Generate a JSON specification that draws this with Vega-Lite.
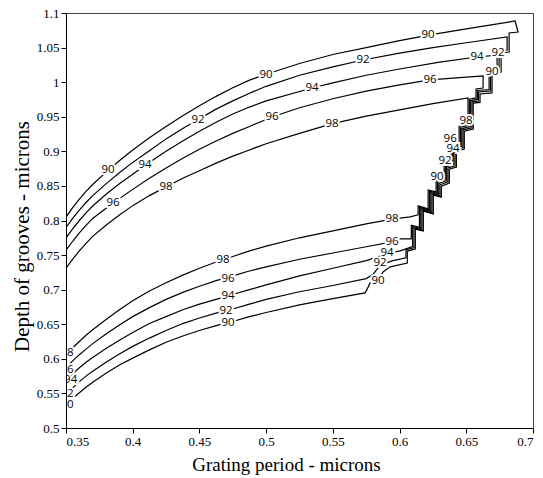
{
"$schema": "https://vega.github.io/schema/vega-lite/v6.json",
"autosize": {"type": "none"},
"padding": {"left": 66, "top": 13, "right": 10, "bottom": 50},
"width": 467,
"height": 415,
"background": "white",
"config": {"view": {"stroke": "#444", "strokeWidth": 1}},
"datasets": {
"lines": [
{"c":90,"i":1,"x":0.35,"y":0.805},{"c":90,"i":2,"x":0.355,"y":0.8185},{"c":90,"i":3,"x":0.36,"y":0.831},{"c":90,"i":4,"x":0.365,"y":0.842},{"c":90,"i":5,"x":0.37,"y":0.852},{"c":90,"i":6,"x":0.38,"y":0.870},{"c":90,"i":7,"x":0.39,"y":0.8865},{"c":90,"i":8,"x":0.40,"y":0.902},{"c":90,"i":9,"x":0.4125,"y":0.9195},{"c":90,"i":10,"x":0.425,"y":0.936},{"c":90,"i":11,"x":0.4375,"y":0.9515},{"c":90,"i":12,"x":0.45,"y":0.966},{"c":90,"i":13,"x":0.4625,"y":0.9795},{"c":90,"i":14,"x":0.475,"y":0.992},{"c":90,"i":15,"x":0.4875,"y":1.003},{"c":90,"i":16,"x":0.50,"y":1.0115},{"c":90,"i":17,"x":0.525,"y":1.027},{"c":90,"i":18,"x":0.55,"y":1.040},{"c":90,"i":19,"x":0.575,"y":1.050},{"c":90,"i":20,"x":0.60,"y":1.060},{"c":90,"i":21,"x":0.625,"y":1.069},{"c":90,"i":22,"x":0.65,"y":1.077},{"c":90,"i":23,"x":0.6866,"y":1.0884},
{"c":90,"i":100,"x":0.6888,"y":1.0725},{"c":90,"i":101,"x":0.6821,"y":1.0711},{"c":90,"i":102,"x":0.6821,"y":1.0436},{"c":90,"i":103,"x":0.6761,"y":1.0422},{"c":90,"i":104,"x":0.6761,"y":1.0147},{"c":90,"i":105,"x":0.6693,"y":1.0133},{"c":90,"i":106,"x":0.6693,"y":0.9844},{"c":90,"i":107,"x":0.6603,"y":0.9829},{"c":90,"i":108,"x":0.6603,"y":0.9707},{"c":90,"i":109,"x":0.6552,"y":0.9697},{"c":90,"i":110,"x":0.6552,"y":0.9321},{"c":90,"i":111,"x":0.6485,"y":0.9292},{"c":90,"i":112,"x":0.6485,"y":0.9032},{"c":90,"i":113,"x":0.6426,"y":0.9003},{"c":90,"i":114,"x":0.6426,"y":0.8772},{"c":90,"i":115,"x":0.6373,"y":0.8743},{"c":90,"i":116,"x":0.6373,"y":0.8540},{"c":90,"i":117,"x":0.6313,"y":0.8497},{"c":90,"i":118,"x":0.6313,"y":0.8338},{"c":90,"i":119,"x":0.6253,"y":0.8367},{"c":90,"i":120,"x":0.6253,"y":0.8093},{"c":90,"i":121,"x":0.6178,"y":0.8136},{"c":90,"i":122,"x":0.6178,"y":0.7847},{"c":90,"i":123,"x":0.6118,"y":0.7876},{"c":90,"i":124,"x":0.6118,"y":0.7587},{"c":90,"i":125,"x":0.6058,"y":0.7558},{"c":90,"i":126,"x":0.6058,"y":0.7384},{"c":90,"i":127,"x":0.5929,"y":0.7330},{"c":90,"i":128,"x":0.5876,"y":0.7257},{"c":90,"i":129,"x":0.5839,"y":0.7127},{"c":90,"i":130,"x":0.5779,"y":0.7098},{"c":90,"i":131,"x":0.5755,"y":0.7000},{"c":90,"i":132,"x":0.5741,"y":0.6954},
{"c":90,"i":200,"x":0.55,"y":0.687},{"c":90,"i":201,"x":0.525,"y":0.678},{"c":90,"i":202,"x":0.50,"y":0.667},{"c":90,"i":203,"x":0.4875,"y":0.661},{"c":90,"i":204,"x":0.475,"y":0.654},{"c":90,"i":205,"x":0.4625,"y":0.648},{"c":90,"i":206,"x":0.45,"y":0.641},{"c":90,"i":207,"x":0.4375,"y":0.633},{"c":90,"i":208,"x":0.425,"y":0.624},{"c":90,"i":209,"x":0.4125,"y":0.613},{"c":90,"i":210,"x":0.40,"y":0.601},{"c":90,"i":211,"x":0.39,"y":0.591},{"c":90,"i":212,"x":0.38,"y":0.579},{"c":90,"i":213,"x":0.37,"y":0.566},{"c":90,"i":214,"x":0.365,"y":0.559},{"c":90,"i":215,"x":0.36,"y":0.551},{"c":90,"i":216,"x":0.355,"y":0.543},{"c":90,"i":217,"x":0.35,"y":0.534},

{"c":92,"i":1,"x":0.35,"y":0.790},{"c":92,"i":2,"x":0.355,"y":0.803},{"c":92,"i":3,"x":0.36,"y":0.815},{"c":92,"i":4,"x":0.365,"y":0.826},{"c":92,"i":5,"x":0.37,"y":0.836},{"c":92,"i":6,"x":0.38,"y":0.853},{"c":92,"i":7,"x":0.39,"y":0.869},{"c":92,"i":8,"x":0.40,"y":0.884},{"c":92,"i":9,"x":0.4125,"y":0.901},{"c":92,"i":10,"x":0.425,"y":0.918},{"c":92,"i":11,"x":0.4375,"y":0.933},{"c":92,"i":12,"x":0.45,"y":0.947},{"c":92,"i":13,"x":0.4625,"y":0.961},{"c":92,"i":14,"x":0.475,"y":0.973},{"c":92,"i":15,"x":0.4875,"y":0.984},{"c":92,"i":16,"x":0.50,"y":0.994},{"c":92,"i":17,"x":0.525,"y":1.010},{"c":92,"i":18,"x":0.55,"y":1.022},{"c":92,"i":19,"x":0.5726,"y":1.032},{"c":92,"i":20,"x":0.60,"y":1.042},{"c":92,"i":21,"x":0.625,"y":1.050},{"c":92,"i":22,"x":0.65,"y":1.057},{"c":92,"i":23,"x":0.6806,"y":1.0653},
{"c":92,"i":100,"x":0.6806,"y":1.0465},{"c":92,"i":101,"x":0.6746,"y":1.0451},{"c":92,"i":102,"x":0.6746,"y":1.0176},{"c":92,"i":103,"x":0.6682,"y":1.0162},{"c":92,"i":104,"x":0.6682,"y":0.9873},{"c":92,"i":105,"x":0.6592,"y":0.9858},{"c":92,"i":106,"x":0.6592,"y":0.9728},{"c":92,"i":107,"x":0.6543,"y":0.9715},{"c":92,"i":108,"x":0.6543,"y":0.9340},{"c":92,"i":109,"x":0.6476,"y":0.9311},{"c":92,"i":110,"x":0.6476,"y":0.9050},{"c":92,"i":111,"x":0.6416,"y":0.9021},{"c":92,"i":112,"x":0.6416,"y":0.8790},{"c":92,"i":113,"x":0.6363,"y":0.8761},{"c":92,"i":114,"x":0.6363,"y":0.8559},{"c":92,"i":115,"x":0.6303,"y":0.8516},{"c":92,"i":116,"x":0.6303,"y":0.8357},{"c":92,"i":117,"x":0.6243,"y":0.8386},{"c":92,"i":118,"x":0.6243,"y":0.8111},{"c":92,"i":119,"x":0.6168,"y":0.8155},{"c":92,"i":120,"x":0.6168,"y":0.7865},{"c":92,"i":121,"x":0.6108,"y":0.7894},{"c":92,"i":122,"x":0.6108,"y":0.7606},{"c":92,"i":123,"x":0.6048,"y":0.7577},{"c":92,"i":124,"x":0.6048,"y":0.7460},{"c":92,"i":125,"x":0.5944,"y":0.7416},
{"c":92,"i":200,"x":0.5854,"y":0.735},{"c":92,"i":201,"x":0.58,"y":0.722},{"c":92,"i":202,"x":0.575,"y":0.716},{"c":92,"i":203,"x":0.55,"y":0.706},{"c":92,"i":204,"x":0.525,"y":0.697},{"c":92,"i":205,"x":0.50,"y":0.686},{"c":92,"i":206,"x":0.4875,"y":0.679},{"c":92,"i":207,"x":0.475,"y":0.672},{"c":92,"i":208,"x":0.4625,"y":0.666},{"c":92,"i":209,"x":0.45,"y":0.659},{"c":92,"i":210,"x":0.4375,"y":0.651},{"c":92,"i":211,"x":0.425,"y":0.641},{"c":92,"i":212,"x":0.4125,"y":0.630},{"c":92,"i":213,"x":0.40,"y":0.618},{"c":92,"i":214,"x":0.39,"y":0.607},{"c":92,"i":215,"x":0.38,"y":0.595},{"c":92,"i":216,"x":0.37,"y":0.582},{"c":92,"i":217,"x":0.365,"y":0.575},{"c":92,"i":218,"x":0.36,"y":0.567},{"c":92,"i":219,"x":0.355,"y":0.558},{"c":92,"i":220,"x":0.35,"y":0.549},

{"c":94,"i":1,"x":0.35,"y":0.775},{"c":94,"i":2,"x":0.355,"y":0.788},{"c":94,"i":3,"x":0.36,"y":0.800},{"c":94,"i":4,"x":0.365,"y":0.811},{"c":94,"i":5,"x":0.37,"y":0.821},{"c":94,"i":6,"x":0.38,"y":0.838},{"c":94,"i":7,"x":0.39,"y":0.853},{"c":94,"i":8,"x":0.40,"y":0.867},{"c":94,"i":9,"x":0.4092,"y":0.880},{"c":94,"i":10,"x":0.425,"y":0.900},{"c":94,"i":11,"x":0.4375,"y":0.915},{"c":94,"i":12,"x":0.45,"y":0.929},{"c":94,"i":13,"x":0.4625,"y":0.942},{"c":94,"i":14,"x":0.475,"y":0.954},{"c":94,"i":15,"x":0.4875,"y":0.964},{"c":94,"i":16,"x":0.50,"y":0.973},{"c":94,"i":17,"x":0.5344,"y":0.9916},{"c":94,"i":18,"x":0.55,"y":0.999},{"c":94,"i":19,"x":0.575,"y":1.010},{"c":94,"i":20,"x":0.60,"y":1.019},{"c":94,"i":21,"x":0.63,"y":1.029},{"c":94,"i":22,"x":0.658,"y":1.0364},{"c":94,"i":23,"x":0.6731,"y":1.039},
{"c":94,"i":100,"x":0.6731,"y":1.0205},{"c":94,"i":101,"x":0.6671,"y":1.0191},{"c":94,"i":102,"x":0.6671,"y":0.9894},{"c":94,"i":103,"x":0.6583,"y":0.9880},{"c":94,"i":104,"x":0.6583,"y":0.9750},{"c":94,"i":105,"x":0.6533,"y":0.9734},{"c":94,"i":106,"x":0.6533,"y":0.9358},{"c":94,"i":107,"x":0.6466,"y":0.9329},{"c":94,"i":108,"x":0.6466,"y":0.9069},{"c":94,"i":109,"x":0.6406,"y":0.9040},{"c":94,"i":110,"x":0.6406,"y":0.8809},{"c":94,"i":111,"x":0.6353,"y":0.8780},{"c":94,"i":112,"x":0.6353,"y":0.8578},{"c":94,"i":113,"x":0.6294,"y":0.8535},{"c":94,"i":114,"x":0.6294,"y":0.8376},{"c":94,"i":115,"x":0.6234,"y":0.8405},{"c":94,"i":116,"x":0.6234,"y":0.8130},{"c":94,"i":117,"x":0.6159,"y":0.8174},{"c":94,"i":118,"x":0.6159,"y":0.7884},{"c":94,"i":119,"x":0.6098,"y":0.7913},{"c":94,"i":120,"x":0.6098,"y":0.7624},{"c":94,"i":121,"x":0.6004,"y":0.7561},
{"c":94,"i":200,"x":0.5906,"y":0.752},{"c":94,"i":201,"x":0.575,"y":0.742},{"c":94,"i":202,"x":0.55,"y":0.731},{"c":94,"i":203,"x":0.525,"y":0.720},{"c":94,"i":204,"x":0.50,"y":0.707},{"c":94,"i":205,"x":0.4875,"y":0.700},{"c":94,"i":206,"x":0.475,"y":0.693},{"c":94,"i":207,"x":0.4625,"y":0.686},{"c":94,"i":208,"x":0.45,"y":0.679},{"c":94,"i":209,"x":0.4375,"y":0.671},{"c":94,"i":210,"x":0.425,"y":0.661},{"c":94,"i":211,"x":0.4125,"y":0.651},{"c":94,"i":212,"x":0.40,"y":0.638},{"c":94,"i":213,"x":0.39,"y":0.627},{"c":94,"i":214,"x":0.38,"y":0.615},{"c":94,"i":215,"x":0.37,"y":0.602},{"c":94,"i":216,"x":0.365,"y":0.595},{"c":94,"i":217,"x":0.36,"y":0.587},{"c":94,"i":218,"x":0.355,"y":0.578},{"c":94,"i":219,"x":0.35,"y":0.569},

{"c":96,"i":1,"x":0.35,"y":0.757},{"c":96,"i":2,"x":0.355,"y":0.770},{"c":96,"i":3,"x":0.36,"y":0.782},{"c":96,"i":4,"x":0.365,"y":0.793},{"c":96,"i":5,"x":0.37,"y":0.803},{"c":96,"i":6,"x":0.3852,"y":0.8254},{"c":96,"i":7,"x":0.40,"y":0.845},{"c":96,"i":8,"x":0.4125,"y":0.861},{"c":96,"i":9,"x":0.425,"y":0.876},{"c":96,"i":10,"x":0.4375,"y":0.890},{"c":96,"i":11,"x":0.45,"y":0.903},{"c":96,"i":12,"x":0.4625,"y":0.915},{"c":96,"i":13,"x":0.475,"y":0.926},{"c":96,"i":14,"x":0.4875,"y":0.936},{"c":96,"i":15,"x":0.5044,"y":0.9497},{"c":96,"i":16,"x":0.525,"y":0.963},{"c":96,"i":17,"x":0.55,"y":0.976},{"c":96,"i":18,"x":0.575,"y":0.987},{"c":96,"i":19,"x":0.60,"y":0.996},{"c":96,"i":20,"x":0.6229,"y":1.0032},{"c":96,"i":21,"x":0.645,"y":1.0065},{"c":96,"i":22,"x":0.6626,"y":1.0090},
{"c":96,"i":100,"x":0.6626,"y":0.9916},{"c":96,"i":101,"x":0.6573,"y":0.9902},{"c":96,"i":102,"x":0.6573,"y":0.9772},{"c":96,"i":103,"x":0.6523,"y":0.9753},{"c":96,"i":104,"x":0.6523,"y":0.9377},{"c":96,"i":105,"x":0.6456,"y":0.9348},{"c":96,"i":106,"x":0.6456,"y":0.9088},{"c":96,"i":107,"x":0.6396,"y":0.9059},{"c":96,"i":108,"x":0.6396,"y":0.8828},{"c":96,"i":109,"x":0.6343,"y":0.8799},{"c":96,"i":110,"x":0.6343,"y":0.8597},{"c":96,"i":111,"x":0.6284,"y":0.8553},{"c":96,"i":112,"x":0.6284,"y":0.8394},{"c":96,"i":113,"x":0.6224,"y":0.8423},{"c":96,"i":114,"x":0.6224,"y":0.8149},{"c":96,"i":115,"x":0.6149,"y":0.8192},{"c":96,"i":116,"x":0.6149,"y":0.7903},{"c":96,"i":117,"x":0.6088,"y":0.7932},{"c":96,"i":118,"x":0.6088,"y":0.7734},{"c":96,"i":119,"x":0.6004,"y":0.7734},
{"c":96,"i":200,"x":0.5944,"y":0.769},{"c":96,"i":201,"x":0.575,"y":0.762},{"c":96,"i":202,"x":0.55,"y":0.753},{"c":96,"i":203,"x":0.525,"y":0.744},{"c":96,"i":204,"x":0.50,"y":0.733},{"c":96,"i":205,"x":0.4875,"y":0.727},{"c":96,"i":206,"x":0.475,"y":0.720},{"c":96,"i":207,"x":0.4625,"y":0.713},{"c":96,"i":208,"x":0.45,"y":0.705},{"c":96,"i":209,"x":0.4375,"y":0.696},{"c":96,"i":210,"x":0.425,"y":0.686},{"c":96,"i":211,"x":0.4125,"y":0.674},{"c":96,"i":212,"x":0.40,"y":0.661},{"c":96,"i":213,"x":0.39,"y":0.649},{"c":96,"i":214,"x":0.38,"y":0.636},{"c":96,"i":215,"x":0.37,"y":0.622},{"c":96,"i":216,"x":0.365,"y":0.614},{"c":96,"i":217,"x":0.36,"y":0.606},{"c":96,"i":218,"x":0.355,"y":0.597},{"c":96,"i":219,"x":0.35,"y":0.587},

{"c":98,"i":1,"x":0.35,"y":0.731},{"c":98,"i":2,"x":0.355,"y":0.744},{"c":98,"i":3,"x":0.36,"y":0.756},{"c":98,"i":4,"x":0.365,"y":0.767},{"c":98,"i":5,"x":0.37,"y":0.777},{"c":98,"i":6,"x":0.38,"y":0.793},{"c":98,"i":7,"x":0.39,"y":0.808},{"c":98,"i":8,"x":0.40,"y":0.8215},{"c":98,"i":9,"x":0.4125,"y":0.836},{"c":98,"i":10,"x":0.425,"y":0.8486},{"c":98,"i":11,"x":0.4375,"y":0.861},{"c":98,"i":12,"x":0.45,"y":0.872},{"c":98,"i":13,"x":0.4625,"y":0.883},{"c":98,"i":14,"x":0.475,"y":0.893},{"c":98,"i":15,"x":0.4875,"y":0.902},{"c":98,"i":16,"x":0.50,"y":0.911},{"c":98,"i":17,"x":0.525,"y":0.926},{"c":98,"i":18,"x":0.549,"y":0.9396},{"c":98,"i":19,"x":0.575,"y":0.951},{"c":98,"i":20,"x":0.60,"y":0.960},{"c":98,"i":21,"x":0.625,"y":0.969},{"c":98,"i":22,"x":0.6513,"y":0.9772},
{"c":98,"i":100,"x":0.6513,"y":0.9396},{"c":98,"i":101,"x":0.6446,"y":0.9367},{"c":98,"i":102,"x":0.6446,"y":0.9107},{"c":98,"i":103,"x":0.6386,"y":0.9078},{"c":98,"i":104,"x":0.6386,"y":0.8847},{"c":98,"i":105,"x":0.6334,"y":0.8818},{"c":98,"i":106,"x":0.6334,"y":0.8616},{"c":98,"i":107,"x":0.6274,"y":0.8572},{"c":98,"i":108,"x":0.6274,"y":0.8413},{"c":98,"i":109,"x":0.6214,"y":0.8442},{"c":98,"i":110,"x":0.6214,"y":0.8168},{"c":98,"i":111,"x":0.6139,"y":0.8211},{"c":98,"i":112,"x":0.6139,"y":0.8081},{"c":98,"i":113,"x":0.6079,"y":0.8052},
{"c":98,"i":200,"x":0.5944,"y":0.802},{"c":98,"i":201,"x":0.575,"y":0.795},{"c":98,"i":202,"x":0.55,"y":0.785},{"c":98,"i":203,"x":0.525,"y":0.775},{"c":98,"i":204,"x":0.50,"y":0.763},{"c":98,"i":205,"x":0.4875,"y":0.756},{"c":98,"i":206,"x":0.475,"y":0.748},{"c":98,"i":207,"x":0.4625,"y":0.740},{"c":98,"i":208,"x":0.45,"y":0.731},{"c":98,"i":209,"x":0.4375,"y":0.721},{"c":98,"i":210,"x":0.425,"y":0.710},{"c":98,"i":211,"x":0.4125,"y":0.698},{"c":98,"i":212,"x":0.40,"y":0.684},{"c":98,"i":213,"x":0.39,"y":0.671},{"c":98,"i":214,"x":0.38,"y":0.657},{"c":98,"i":215,"x":0.37,"y":0.642},{"c":98,"i":216,"x":0.365,"y":0.634},{"c":98,"i":217,"x":0.36,"y":0.625},{"c":98,"i":218,"x":0.355,"y":0.616},{"c":98,"i":219,"x":0.35,"y":0.606}
],
"labels": [
{"t":"90","x":0.3815,"y":0.873},{"t":"90","x":0.4999,"y":1.0110},{"t":"90","x":0.6214,"y":1.0680},
{"t":"92","x":0.449,"y":0.946},{"t":"92","x":0.5726,"y":1.032},
{"t":"94","x":0.4092,"y":0.880},{"t":"94","x":0.5344,"y":0.9916},{"t":"94","x":0.658,"y":1.0364},
{"t":"96","x":0.3852,"y":0.8254},{"t":"96","x":0.5044,"y":0.9497},{"t":"96","x":0.6229,"y":1.0032},
{"t":"98","x":0.425,"y":0.8486},{"t":"98","x":0.5494,"y":0.9396},
{"t":"92","x":0.6738,"y":1.0422},{"t":"90","x":0.6693,"y":1.0147},
{"t":"98","x":0.6498,"y":0.944},{"t":"96","x":0.6379,"y":0.9179},{"t":"94","x":0.6401,"y":0.9035},{"t":"92","x":0.6341,"y":0.8861},{"t":"90","x":0.6281,"y":0.8630},
{"t":"98","x":0.4677,"y":0.743},{"t":"98","x":0.5944,"y":0.802},
{"t":"96","x":0.4714,"y":0.716},{"t":"96","x":0.5944,"y":0.769},
{"t":"94","x":0.4714,"y":0.691},{"t":"94","x":0.5906,"y":0.753},
{"t":"92","x":0.4699,"y":0.669},{"t":"92","x":0.5854,"y":0.7387},
{"t":"90","x":0.4714,"y":0.652},{"t":"90","x":0.5839,"y":0.713},
{"t":"98","x":0.3507,"y":0.6087},{"t":"96","x":0.3507,"y":0.5841},{"t":"94","x":0.3535,"y":0.5697},{"t":"92","x":0.3507,"y":0.5494},{"t":"90","x":0.3507,"y":0.5335}
]
},
"encoding": {
"x": {"field": "x", "type": "quantitative", "scale": {"domain": [0.35, 0.7], "nice": false, "zero": false},
  "axis": {"title": "Grating period - microns", "values": [0.35, 0.4, 0.45, 0.5, 0.55, 0.6, 0.65, 0.7], "format": ".2~f", "grid": false, "zindex": 1,
    "tickSize": 5, "tickColor": "black", "domainColor": "black", "labelColor": "black", "labelPadding": 2,
    "labelFont": "Liberation Serif", "labelFontSize": 13, "titleFont": "Liberation Serif", "titleFontSize": 19, "titleFontWeight": "normal", "titleColor": "black",
    "titleX": 220, "titleY": 42, "titleBaseline": "alphabetic", "titleAnchor": "middle", "titleAlign": "center"}},
"y": {"field": "y", "type": "quantitative", "scale": {"domain": [0.5, 1.1], "nice": false, "zero": false},
  "axis": {"title": "Depth of grooves - microns", "values": [0.5, 0.55, 0.6, 0.65, 0.7, 0.75, 0.8, 0.85, 0.9, 0.95, 1, 1.05, 1.1], "format": ".2~f", "grid": false, "zindex": 1,
    "tickSize": 5, "tickColor": "black", "domainColor": "black", "labelColor": "black", "labelPadding": 2,
    "labelFont": "Liberation Serif", "labelFontSize": 13, "titleFont": "Liberation Serif", "titleFontSize": 21, "titleFontWeight": "normal", "titleColor": "black",
    "titleX": -44, "titleY": 223, "titleAngle": -90, "titleBaseline": "middle", "titleAlign": "center"}}
},
"layer": [
{"data": {"name": "lines"}, "mark": {"type": "line", "color": "black", "strokeWidth": 1.2, "clip": true},
 "encoding": {"detail": {"field": "c", "type": "nominal"}, "order": {"field": "i", "type": "quantitative"}}},
{"data": {"name": "labels"}, "mark": {"type": "text", "font": "Open Sans", "fontSize": 11.5, "fill": "white", "stroke": "white", "strokeWidth": 4, "clip": true, "align": "center", "baseline": "middle"},
 "encoding": {"text": {"field": "t"}}},
{"data": {"name": "labels"}, "mark": {"type": "text", "font": "Open Sans", "fontSize": 11.5, "fill": "black", "opacity": 0.99, "clip": true, "align": "center", "baseline": "middle"},
 "encoding": {"text": {"field": "t"}}}
]
}
